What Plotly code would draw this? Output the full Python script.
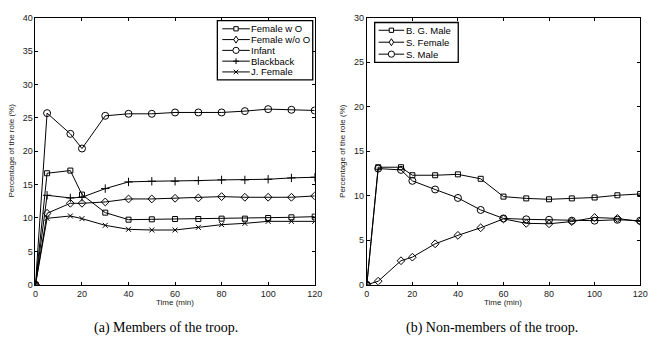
import plotly.graph_objects as go

time_min = [0, 5, 15, 20, 30, 40, 50, 60, 70, 80, 90, 100, 110, 120]

female_w_o = [0, 16.7, 17.1, 13.5, 10.8, 9.75, 9.8, 9.85, 9.85, 9.9, 9.9, 10.0, 10.1, 10.2]
female_wo_o = [0, 10.7, 12.2, 12.2, 12.4, 12.85, 12.85, 12.95, 13.0, 13.2, 13.1, 13.1, 13.1, 13.3]
infant = [0, 25.7, 22.6, 20.4, 25.3, 25.6, 25.6, 25.8, 25.8, 25.8, 26.0, 26.3, 26.2, 26.1]
blackback = [0, 13.4, 13.0, 13.1, 14.4, 15.4, 15.5, 15.5, 15.6, 15.7, 15.7, 15.8, 16.0, 16.1]
j_female = [0, 9.95, 10.3, 9.9, 8.9, 8.3, 8.2, 8.2, 8.6, 9.0, 9.2, 9.5, 9.5, 9.5]

bg_male = [0, 13.2, 13.2, 12.3, 12.3, 12.4, 11.9, 9.9, 9.7, 9.6, 9.7, 9.8, 10.05, 10.2]
s_female = [0, 0.4, 2.7, 3.1, 4.6, 5.55, 6.4, 7.4, 6.9, 6.85, 7.1, 7.55, 7.45, 7.1]
s_male = [0, 13.05, 12.9, 11.67, 10.7, 9.75, 8.4, 7.45, 7.35, 7.3, 7.2, 7.2, 7.3, 7.2]

left_names = ["Female w O", "Female w/o O", "Infant", "Blackback", "J. Female"]
left_values = [female_w_o, female_wo_o, infant, blackback, j_female]
left_symbols = ["square", "diamond", "circle", "cross", "x"]

right_names = ["B. G. Male", "S. Female", "S. Male"]
right_values = [bg_male, s_female, s_male]
right_symbols = ["square", "diamond", "circle"]

x_ticks = [0, 20, 40, 60, 80, 100, 120]
left_y_ticks = [0, 5, 10, 15, 20, 25, 30, 35, 40]
right_y_ticks = [0, 5, 10, 15, 20, 25, 30]

PLOTLY_SYMBOL = {"square": "square-open", "diamond": "diamond-open", "circle": "circle-open",
                 "cross": "cross-thin-open", "x": "x-thin-open"}
SYMBOL_SIZE = {"square": 5, "diamond": 6, "circle": 7, "cross": 6, "x": 5}

W, H = 657, 350
fig = go.Figure()


def add_series(names, values, symbols, xa, ya):
    for name, vals, sym in zip(names, values, symbols):
        fig.add_trace(go.Scatter(
            x=time_min, y=vals, name=name, mode="lines+markers", showlegend=False,
            line=dict(color="black", width=1),
            marker=dict(symbol=PLOTLY_SYMBOL[sym], size=SYMBOL_SIZE[sym], color="black",
                        line=dict(color="black", width=1)),
            xaxis=xa, yaxis=ya,
        ))


add_series(left_names, left_values, left_symbols, "x", "y")
add_series(right_names, right_values, right_symbols, "x2", "y2")

tickfont = dict(family="Liberation Sans, Arial, sans-serif", size=9, color="#222")
ax_common = dict(
    showline=True, linecolor="black", linewidth=1, mirror="ticks",
    ticks="inside", ticklen=3, tickcolor="black", showgrid=False, zeroline=False,
    tickfont=tickfont,
)

ydom = [(H - 288) / H, (H - 13) / H]
fig.update_layout(
    width=W, height=H,
    margin=dict(l=0, r=0, t=0, b=0),
    paper_bgcolor="white", plot_bgcolor="white",
    showlegend=False,
    xaxis=dict(domain=[33 / W, 317 / W], range=[0, 120], tickvals=x_ticks, anchor="y", **ax_common),
    yaxis=dict(domain=ydom, range=[0, 40], tickvals=left_y_ticks, anchor="x", **ax_common),
    xaxis2=dict(domain=[370 / W, 648 / W], range=[0, 120], tickvals=x_ticks, anchor="y2", **ax_common),
    yaxis2=dict(domain=ydom, range=[0, 30], tickvals=right_y_ticks, anchor="x2", **ax_common),
)


# ---- compact legend boxes (drawn as layout shapes, pixel -> paper) ----
def px(x):
    return x / W


def py(y):
    return (H - y) / H


def marker_shape(sym, cx, cy):
    ln = dict(color="black", width=1)
    common = dict(xref="paper", yref="paper", line=ln, layer="above")
    if sym == "square":
        r = 2.2
        fig.add_shape(type="rect", x0=px(cx - r), x1=px(cx + r), y0=py(cy - r), y1=py(cy + r),
                      fillcolor="white", **common)
    elif sym == "circle":
        r = 3.2
        fig.add_shape(type="circle", x0=px(cx - r), x1=px(cx + r), y0=py(cy - r), y1=py(cy + r),
                      fillcolor="white", **common)
    elif sym == "diamond":
        rx, ry = 2.3, 3.6
        path = (f"M {px(cx)},{py(cy - ry)} L {px(cx + rx)},{py(cy)} "
                f"L {px(cx)},{py(cy + ry)} L {px(cx - rx)},{py(cy)} Z")
        fig.add_shape(type="path", path=path, fillcolor="white", **common)
    elif sym == "cross":
        r = 3
        path = (f"M {px(cx - r)},{py(cy)} L {px(cx + r)},{py(cy)} "
                f"M {px(cx)},{py(cy - r)} L {px(cx)},{py(cy + r)}")
        fig.add_shape(type="path", path=path, **common)
    elif sym == "x":
        r = 2.3
        path = (f"M {px(cx - r)},{py(cy - r)} L {px(cx + r)},{py(cy + r)} "
                f"M {px(cx - r)},{py(cy + r)} L {px(cx + r)},{py(cy - r)}")
        fig.add_shape(type="path", path=path, **common)


legfont = dict(family="Liberation Sans, Arial, sans-serif", size=9.5, color="black")


def draw_legend(names, symbols, box, first_y, step, line_x0, line_x1, text_x):
    x0, y0, x1, y1 = box
    fig.add_shape(type="rect", xref="paper", yref="paper",
                  x0=px(x0), x1=px(x1), y0=py(y1), y1=py(y0),
                  fillcolor="white", line=dict(color="black", width=1.3), layer="above")
    for i, (name, sym) in enumerate(zip(names, symbols)):
        yy = first_y + i * step
        fig.add_shape(type="line", xref="paper", yref="paper",
                      x0=px(line_x0), x1=px(line_x1), y0=py(yy), y1=py(yy),
                      line=dict(color="black", width=1), layer="above")
        marker_shape(sym, (line_x0 + line_x1) / 2, yy)
        fig.add_annotation(xref="paper", yref="paper", x=px(text_x), y=py(yy),
                           text=name, showarrow=False, xanchor="left", yanchor="middle",
                           font=legfont, borderpad=0)


draw_legend(left_names, left_symbols, (218, 16, 315, 77), 24.5, 11.1, 223, 251, 251.5)
draw_legend(right_names, right_symbols, (378, 18, 463, 59), 26, 12.3, 382, 408, 409)

labfont = dict(family="Liberation Sans, Arial, sans-serif", size=8, color="#222")
capfont = dict(family="Liberation Serif, Times New Roman, serif", size=14, color="black")
annots = [
    dict(x=175 / W, y=(H - 306) / H, text="Time (min)", font=labfont),
    dict(x=509 / W, y=(H - 306) / H, text="Time (min)", font=labfont),
    dict(x=9 / W, y=(H - 150) / H, text="Percentage of the role (%)", font=labfont, textangle=-90),
    dict(x=346 / W, y=(H - 150) / H, text="Percentage of the role (%)", font=labfont, textangle=-90),
    dict(x=166 / W, y=(H - 333) / H, text="(a) Members of the troop.", font=capfont),
    dict(x=497 / W, y=(H - 333) / H, text="(b) Non-members of the troop.", font=capfont),
]
for a in annots:
    fig.add_annotation(xref="paper", yref="paper", showarrow=False, xanchor="center", yanchor="middle", **a)

fig.write_html(
    "out.html",
    config={"displayModeBar": False},
    post_script="document.body.style.margin='0';document.body.style.overflow='hidden';",
)
